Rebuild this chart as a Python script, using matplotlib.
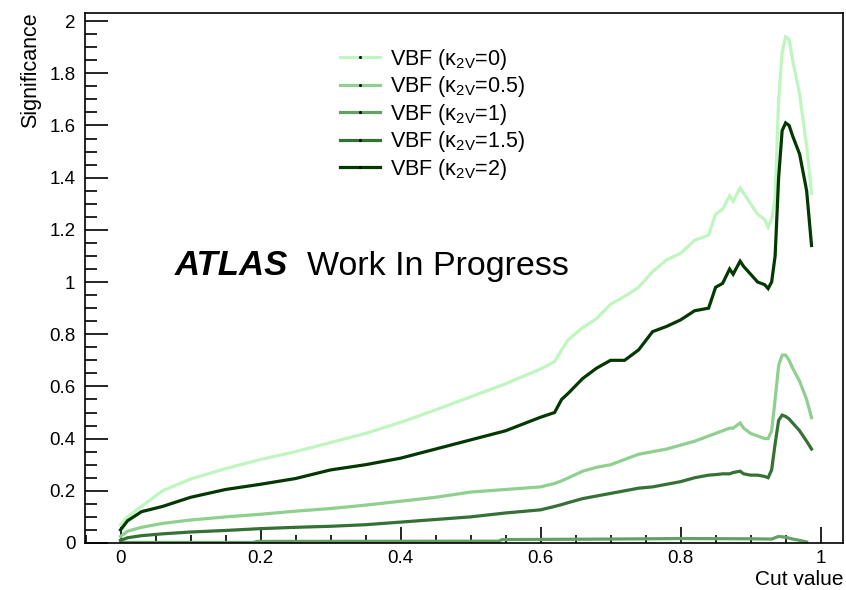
import numpy as np
import matplotlib
matplotlib.use("Agg")
import matplotlib.pyplot as plt
from matplotlib.lines import Line2D
from matplotlib.ticker import MultipleLocator

plt.rcParams["font.family"] = ["Liberation Sans", "DejaVu Sans"]
plt.rcParams["mathtext.fontset"] = "custom"
plt.rcParams["mathtext.rm"] = "Liberation Sans"
plt.rcParams["mathtext.it"] = "Liberation Sans:italic"
plt.rcParams["mathtext.default"] = "regular"

# cut scan points
cut = [0.0, 0.01, 0.03, 0.06, 0.1, 0.15, 0.2, 0.25, 0.3, 0.35, 0.4, 0.45, 0.5,
       0.55, 0.6, 0.62, 0.63, 0.64, 0.66, 0.68, 0.7, 0.72, 0.74, 0.76, 0.78,
       0.8, 0.82, 0.84, 0.85, 0.86, 0.87, 0.875, 0.885, 0.89, 0.9, 0.91, 0.92,
       0.925, 0.93, 0.935, 0.94, 0.945, 0.95, 0.955, 0.96, 0.97, 0.98, 0.987]

sig_k0 = [0.07, 0.10, 0.14, 0.20, 0.245, 0.285, 0.32, 0.35, 0.385, 0.42, 0.462,
          0.51, 0.56, 0.61, 0.667, 0.695, 0.74, 0.78, 0.825, 0.86, 0.915, 0.945,
          0.98, 1.04, 1.085, 1.11, 1.16, 1.18, 1.26, 1.28, 1.33, 1.31, 1.36,
          1.34, 1.30, 1.26, 1.24, 1.21, 1.24, 1.32, 1.70, 1.88, 1.94, 1.93,
          1.85, 1.72, 1.52, 1.34]

sig_k05 = [0.025, 0.045, 0.06, 0.075, 0.088, 0.10, 0.11, 0.122, 0.132, 0.145,
           0.16, 0.175, 0.195, 0.205, 0.215, 0.228, 0.238, 0.25, 0.275, 0.29,
           0.30, 0.32, 0.34, 0.35, 0.36, 0.375, 0.39, 0.41, 0.42, 0.43, 0.44,
           0.44, 0.46, 0.44, 0.42, 0.41, 0.40, 0.40, 0.43, 0.55, 0.68, 0.72,
           0.72, 0.70, 0.67, 0.62, 0.55, 0.48]

sig_k15 = [0.01, 0.02, 0.028, 0.035, 0.042, 0.048, 0.055, 0.060, 0.064, 0.07,
           0.08, 0.09, 0.10, 0.115, 0.127, 0.14, 0.147, 0.155, 0.17, 0.18,
           0.19, 0.20, 0.21, 0.215, 0.225, 0.235, 0.25, 0.26, 0.262, 0.265,
           0.265, 0.27, 0.275, 0.265, 0.26, 0.26, 0.255, 0.25, 0.28, 0.38,
           0.47, 0.49, 0.485, 0.475, 0.46, 0.43, 0.39, 0.36]

sig_k2 = [0.05, 0.085, 0.12, 0.14, 0.175, 0.205, 0.225, 0.247, 0.28, 0.30,
          0.325, 0.36, 0.395, 0.43, 0.482, 0.50, 0.55, 0.575, 0.63, 0.67, 0.70,
          0.70, 0.74, 0.81, 0.83, 0.855, 0.89, 0.90, 0.98, 0.995, 1.05, 1.03,
          1.08, 1.06, 1.03, 1.00, 0.99, 0.975, 1.00, 1.10, 1.40, 1.58, 1.61,
          1.60, 1.56, 1.49, 1.35, 1.14]

# kappa_2V = 1 sits almost on zero, has its own scan points
cut_k1 = [0.0, 0.19, 0.195, 0.54, 0.545, 0.7, 0.8, 0.9, 0.93, 0.94, 0.95,
          0.96, 0.97, 0.98]
sig_k1 = [0.002, 0.002, 0.006, 0.007, 0.013, 0.015, 0.017, 0.016, 0.015,
          0.025, 0.022, 0.015, 0.01, 0.004]

labels = ["0", "0.5", "1", "1.5", "2"]
colors = ["#bff5bf", "#8fcf8f", "#64a064", "#357035", "#033803"]

fig = plt.figure(figsize=(8.46, 5.90), dpi=100)
ax = fig.add_axes([0.1005, 0.0797, 0.896, 0.8991])

series = [(cut, sig_k0), (cut, sig_k05), (cut_k1, sig_k1), (cut, sig_k15), (cut, sig_k2)]
handles = []
for (xs, ys), lab, col in zip(series, labels, colors):
    ax.plot(xs, ys, color=col, lw=2.3, solid_joinstyle="miter")
    handles.append(Line2D([], [], color=col, lw=2.3, marker="o", markersize=1.2,
                          markerfacecolor="k", markeredgecolor="k",
                          label="VBF (\u03ba$_{2V}$=" + lab + ")"))

ax.set_xlim(-0.0507, 1.032)
ax.set_ylim(0, 2.033)

ax.xaxis.set_major_locator(MultipleLocator(0.2))
ax.xaxis.set_minor_locator(MultipleLocator(0.05))
ax.yaxis.set_major_locator(MultipleLocator(0.2))
ax.yaxis.set_minor_locator(MultipleLocator(0.05))
ax.xaxis.set_major_formatter(lambda v, p: f"{v:g}")
ax.yaxis.set_major_formatter(lambda v, p: f"{v:g}")

ax.tick_params(axis="both", which="both", direction="in", top=False, right=False,
               width=1.2, labelsize=13.5, colors="black")
ax.tick_params(axis="y", which="major", length=16.5, pad=7)
ax.tick_params(axis="y", which="minor", length=8.5)
ax.tick_params(axis="x", which="major", length=11.5, pad=5)
ax.tick_params(axis="x", which="minor", length=5.8)
for s in ax.spines.values():
    s.set_linewidth(1.2)

ax.set_ylabel("Significance", fontsize=15.5, loc="top", labelpad=6)
ax.set_xlabel("Cut value", fontsize=15, loc="right", labelpad=2)

ax.text(0.1187, 0.505, "ATLAS", transform=ax.transAxes, fontsize=25,
        fontweight="bold", fontstyle="italic")
ax.text(0.293, 0.505, "Work In Progress", transform=ax.transAxes, fontsize=24.5)

ax.legend(handles=handles, loc="upper left", bbox_to_anchor=(0.402, 0.921),
          bbox_transform=fig.transFigure, frameon=False, fontsize=15.5,
          handlelength=1.86, handletextpad=0.47, labelspacing=0.12,
          numpoints=1, borderaxespad=0, borderpad=0)

fig.savefig("out.png", dpi=100)
